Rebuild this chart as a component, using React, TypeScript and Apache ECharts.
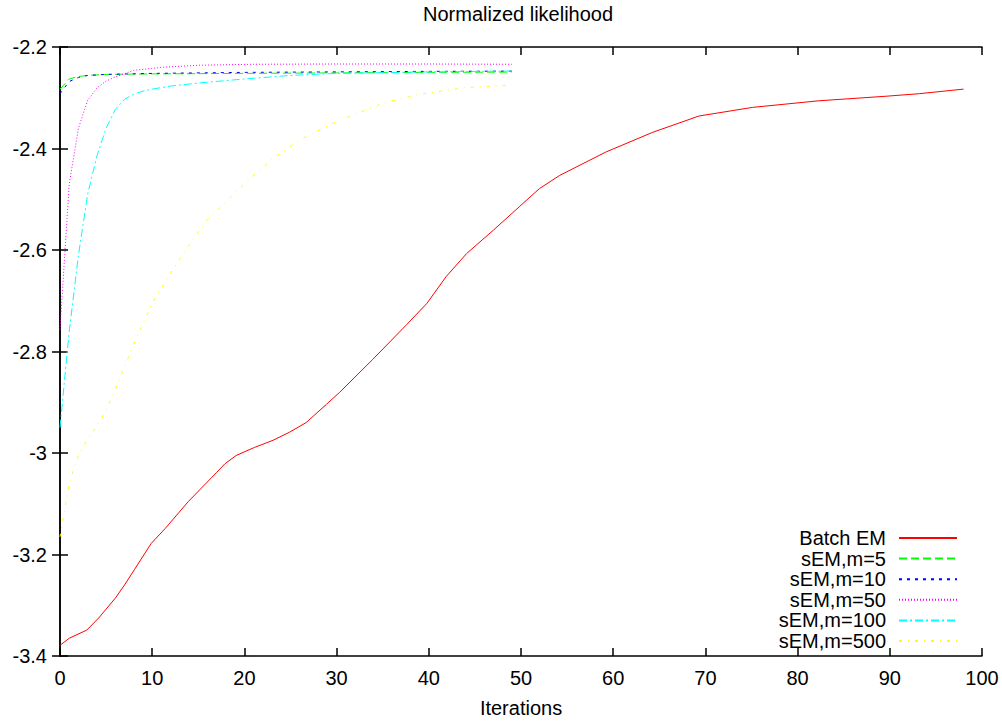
import React, { useEffect, useRef } from "react";
import * as echarts from "echarts";

const xTicks = [0, 10, 20, 30, 40, 50, 60, 70, 80, 90, 100];
const yTicks = [-3.4, -3.2, -3.0, -2.8, -2.6, -2.4, -2.2];

const seriesNames = ["Batch EM", "sEM,m=5", "sEM,m=10", "sEM,m=50", "sEM,m=100", "sEM,m=500"];

const batchX = [0, 1, 2.9, 4.2, 6, 7, 8.1, 9.9, 11.4, 13.9, 17, 17.9, 19.1, 21.1, 23.1, 24.9, 26.7, 28.9, 30.3, 33.9, 37.6, 39.8, 41.9, 44.1, 47, 49.8, 52, 54.2, 59.2, 64.3, 69.3, 75.1, 82.3, 89.6, 93.2, 98];
const batchY = [-3.379, -3.365, -3.349, -3.325, -3.286, -3.26, -3.229, -3.178, -3.149, -3.096, -3.038, -3.021, -3.005, -2.989, -2.975, -2.959, -2.94, -2.904, -2.881, -2.816, -2.747, -2.705, -2.652, -2.607, -2.561, -2.515, -2.479, -2.453, -2.407, -2.368, -2.336, -2.319, -2.306, -2.297, -2.292, -2.283];

const m5X = [0, 1, 2, 3, 5, 10, 20, 30, 40, 49];
const m5Y = [-2.283, -2.263, -2.258, -2.256, -2.254, -2.253, -2.252, -2.251, -2.25, -2.2495];

const m10X = [0, 1, 2, 3, 5, 10, 20, 30, 40, 49];
const m10Y = [-2.292, -2.268, -2.26, -2.256, -2.254, -2.252, -2.25, -2.249, -2.248, -2.2475];

const m50X = [0, 1, 2, 3, 4, 5, 6, 8, 11, 15, 21, 30, 40, 49];
const m50Y = [-2.757, -2.47, -2.36, -2.305, -2.281, -2.267, -2.259, -2.246, -2.24, -2.236, -2.234, -2.2335, -2.2335, -2.234];

const m100X = [0, 1, 2, 3, 4, 5, 6, 7, 8, 9, 10, 12, 15, 20, 25, 30, 40, 49];
const m100Y = [-2.95, -2.76, -2.61, -2.49, -2.415, -2.36, -2.323, -2.303, -2.293, -2.287, -2.283, -2.277, -2.271, -2.263, -2.256, -2.252, -2.249, -2.2475];

const m500X = [0, 1, 2, 3, 4, 5, 6, 7, 8, 9, 10, 12, 14, 16, 18, 20, 23, 26, 30, 35, 39, 44, 49];
const m500Y = [-3.165, -3.06, -3.005, -2.972, -2.948, -2.915, -2.875, -2.83, -2.785, -2.745, -2.705, -2.645, -2.59, -2.54, -2.505, -2.47, -2.421, -2.383, -2.347, -2.311, -2.293, -2.28, -2.275];

const colors = ["#ff0000", "#00ff00", "#0000ff", "#ff00ff", "#00ffff", "#ffff00"];
const dashes: any[] = ["solid", [8, 4], [3, 5], [1, 2], [8, 3, 2, 3], [3, 6, 1, 6]];

const allX = [batchX, m5X, m10X, m50X, m100X, m500X];
const allY = [batchY, m5Y, m10Y, m50Y, m100Y, m500Y];

const FONT = "Liberation Sans, Arial, sans-serif";
const FS = 20;

export default function App() {
  const ref = useRef<HTMLDivElement>(null);
  useEffect(() => {
    if (!ref.current) return;
    const chart = echarts.init(ref.current, undefined, { renderer: "svg" });
    const axisLine = { show: true, lineStyle: { color: "#000", width: 1.5 } };
    const tick = { show: true, inside: true, length: 8, lineStyle: { color: "#000", width: 1.5 } };
    const xBase = { type: "value", min: xTicks[0], max: xTicks[xTicks.length - 1], interval: 10, splitLine: { show: false }, axisLine, axisTick: tick };
    const yBase = { type: "value", min: yTicks[0], max: yTicks[yTicks.length - 1], interval: 0.2, splitLine: { show: false }, axisLine, axisTick: tick };
    chart.setOption({
      animation: false,
      backgroundColor: "#fff",
      title: {
        text: "Normalized likelihood",
        left: 423,
        top: 4,
        padding: 0,
        textStyle: { fontFamily: FONT, fontSize: FS, fontWeight: "normal", color: "#000" },
      },
      grid: { left: 60, right: 20, top: 47, bottom: 63 },
      legend: {
        orient: "vertical",
        right: 44,
        top: 528,
        align: "right",
        padding: 0,
        itemWidth: 58,
        itemHeight: 14,
        itemGap: 0.6,
        data: seriesNames,
        itemStyle: { opacity: 0 },
        textStyle: { fontFamily: FONT, fontSize: FS, color: "#000", width: 150, align: "right", lineHeight: 20, padding: [0, 8, 0, 0] },
      },
      xAxis: [
        {
          ...xBase,
          position: "bottom",
          name: "Iterations",
          nameLocation: "middle",
          nameGap: 42,
          nameTextStyle: { fontFamily: FONT, fontSize: FS, color: "#000" },
          axisLabel: { fontFamily: FONT, fontSize: FS, color: "#000", margin: 12 },
        },
        { ...xBase, position: "top", axisLabel: { show: false } },
      ],
      yAxis: [
        {
          ...yBase,
          position: "left",
          axisLabel: {
            fontFamily: FONT,
            fontSize: FS,
            color: "#000",
            margin: 13,
            formatter: (v: number) => String(+v.toFixed(1)),
          },
        },
        { ...yBase, position: "right", axisLabel: { show: false } },
      ],
      series: seriesNames.map((name, i) => ({
        name,
        type: "line",
        xAxisIndex: 0,
        yAxisIndex: 0,
        symbol: "none",
        showSymbol: false,
        color: colors[i],
        lineStyle: { color: colors[i], width: 1, type: dashes[i] },
        data: allX[i].map((x, j) => [x, allY[i][j]]),
      })),
    });
    return () => chart.dispose();
  }, []);
  return <div ref={ref} style={{ position: "fixed", left: 0, top: 0, width: 1002, height: 723 }} />;
}
